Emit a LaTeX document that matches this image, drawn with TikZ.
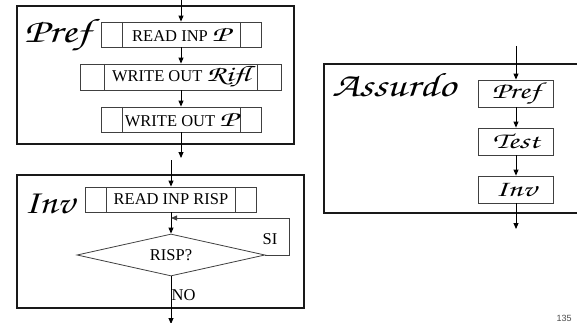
\documentclass[tikz,border=0pt]{standalone}
\usepackage[T1]{fontenc}
\usepackage{fontspec}
\usepackage{graphicx}
\setmainfont{Liberation Serif}
\newfontfamily\pagenumfont{Liberation Sans}
\usetikzlibrary{shapes.geometric,arrows.meta}
% calligraphic face (URW Chancery) for the block names
\newcommand\chanc{\fontencoding{T1}\fontfamily{pzc}\fontseries{mb}\fontshape{it}\selectfont}
% \chn{size}{horizontal stretch}{text}
\newcommand\chn[3]{\scalebox{#2}[1]{\chanc\fontsize{#1}{#1}\selectfont #3}}
\tikzset{
  arr/.style={draw=black, line width=0.9pt, -{Triangle[length=6pt,width=5pt]}},
  outerbox/.style={draw=black!90, line width=2.6pt, inner sep=0pt},
  procbox/.style={draw=black!75, line width=0.8pt, inner sep=0pt,
    font=\fontsize{16.5}{16.5}\selectfont,
    path picture={
      \draw[black!75, line width=0.8pt]
        ([xshift=#1]path picture bounding box.north west) --
        ([xshift=#1]path picture bounding box.south west)
        ([xshift=-#1]path picture bounding box.north east) --
        ([xshift=-#1]path picture bounding box.south east);}},
  procbox/.default=21pt,
  smallbox/.style={draw=black!75, line width=0.8pt, inner sep=0pt,
    minimum width=75pt, minimum height=27pt},
  title/.style={anchor=base west, inner sep=0pt},
  lbl/.style={inner sep=0pt, font=\fontsize{16.5}{16.5}\selectfont},
}
\begin{document}
\begin{tikzpicture}[x=1pt,y=-1pt]
\useasboundingbox (0,0) rectangle (577,323);

% ---- block Pref ----
\node[outerbox, minimum width=277pt, minimum height=138pt] (prefbox) at (155.5,75) {};
\node[title] (preft) at (24,43) {\chn{34}{1.3}{Pref}};
\node[procbox, minimum width=160pt, minimum height=25pt] (readp) at (181,34.5) {READ INP \chn{22}{1.5}{P}};
\node[procbox=24pt, minimum width=201pt, minimum height=26pt] (rifl) at (181,77) {WRITE OUT \chn{22}{1.45}{Rifl}};
\node[procbox, minimum width=160pt, minimum height=25pt] (writep) at (181,119.5) {WRITE OUT \chn{22}{1.5}{P}};
\coordinate (pin) at (181,0);
\coordinate (pout) at (181,158);
\draw[arr] (pin) -- (readp.north);
\draw[arr] (readp.south) -- (rifl.north);
\draw[arr] (rifl.south) -- (writep.north);
\draw[arr] (writep.south) -- (pout);

% ---- block Inv ----
\node[outerbox, minimum width=287pt, minimum height=133pt] (invbox) at (160.5,241.5) {};
\node[title] (invt) at (24,213) {\chn{34}{1.15}{Inv}};
\node[procbox=21pt, minimum width=171pt, minimum height=25pt] (risp) at (171,199.5) {READ INP RISP};
\node[draw=black!75, line width=0.8pt, shape=diamond, aspect=4.5, inner sep=0pt,
      minimum width=188pt, minimum height=42pt, font=\fontsize{16.5}{16.5}\selectfont] (test) at (171,255) {RISP?};
\coordinate (iin) at (171,160);
\coordinate (join) at (171,218);
\coordinate (iout) at (171,324);
\draw[arr] (iin) -- (risp.north);
\draw[arr] (risp.south) -- (test.north);
\draw[arr, line width=0.8pt, draw=black!75] (test.east) -- ++(24,0) |- (join);
\draw[arr] (test.south) -- (iout);
\node[lbl] (si) at (270,239) {SI};
\node[lbl, anchor=west] (no) at (171.5,295) {NO};

% ---- block Assurdo ----
\node[outerbox, minimum width=276pt, minimum height=149pt] (assbox) at (462,138.5) {};
\node[title] (asst) at (332,97) {\chn{34}{1.27}{Assurdo}};
\node[smallbox] (bpref) at (516,93.5) {\chn{23}{1.4}{Pref}};
\node[smallbox] (btest) at (516,141.5) {\chn{23}{1.4}{Test}};
\node[smallbox] (binv) at (516,189.5) {\chn{23}{1.4}{Inv}};
\coordinate (ain) at (516,46);
\coordinate (aout) at (516,229);
\draw[arr] (ain) -- (bpref.north);
\draw[arr] (bpref.south) -- (btest.north);
\draw[arr] (btest.south) -- (binv.north);
\draw[arr] (binv.south) -- (aout);

% page number
\node[anchor=south, inner sep=0pt, font=\pagenumfont\fontsize{9}{9}\selectfont, text=black!70] (pg) at (564,322) {135};
\end{tikzpicture}
\end{document}
